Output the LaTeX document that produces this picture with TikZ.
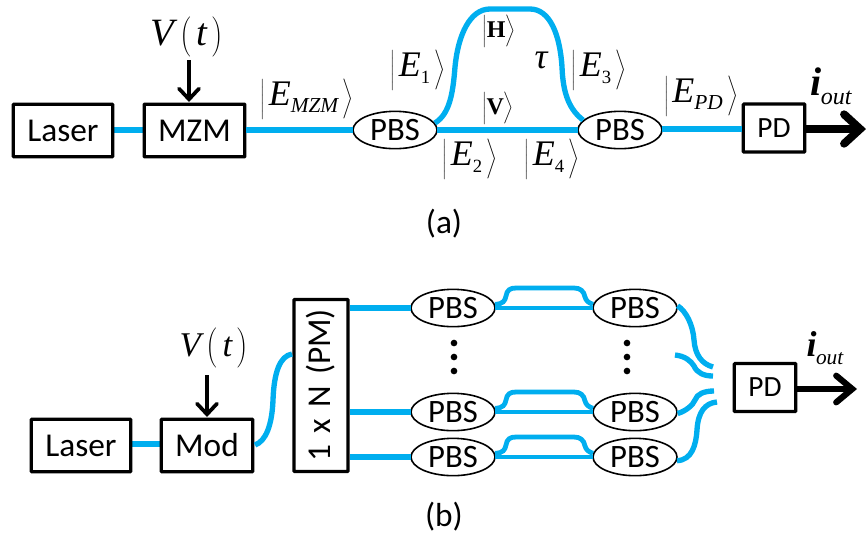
\documentclass[tikz,border=0pt]{standalone}
\usepackage{fontspec}
\setmainfont{Carlito}
\newfontfamily\serif{Liberation Serif}
\usetikzlibrary{shapes.geometric,arrows.meta}
\definecolor{fibre}{RGB}{0,174,239}
\newcommand\Ket[2]{$\left|\rule[-10pt]{0pt}{30pt}\,\hbox{\fontsize{27}{27}\serif\itshape E}_{\raisebox{-3pt}{\fontsize{#2}{#2}\serif #1}}\,\right\rangle$}
\newcommand\KetB[1]{$\left|\rule[-7pt]{0pt}{24pt}\hbox{\fontsize{18}{18}\serif\bfseries #1}\right\rangle$}
\newcommand\Vt[1]{\fontsize{#1}{#1}\serif\itshape V\,$\left(\rule[-8pt]{0pt}{24pt}\,\hbox{\fontsize{#1}{#1}\serif\itshape t}\,\right)$}
\tikzset{
  blk/.style={draw=black,line width=2.4pt,rounded corners=.5pt,fill=white,inner sep=0pt,font=\fontsize{25}{25}\selectfont},
  pbs/.style={draw=black,ellipse,line width=1.2pt,fill=white,inner sep=0pt,minimum width=63pt,minimum height=28pt,font=\fontsize{24.5}{24.5}\selectfont},
  fib/.style={draw=fibre,line width=4pt},
  fibs/.style={draw=fibre,line width=3.6pt},
  bigarr/.style={line width=6pt,-{Straight Barb[length=12pt,width=22pt,line cap=round,line width=6pt]}},
  medarr/.style={line width=4.6pt,-{Straight Barb[length=12pt,width=20pt,line cap=round,line width=4.6pt]}},
  sigarr/.style={line width=2.8pt,-{Straight Barb[length=8pt,width=15pt,line cap=round,line width=2.8pt]}},
  lab/.style={inner sep=0pt,font=\fontsize{19}{19}\selectfont},
  dotn/.style={circle,fill=black,inner sep=0pt,minimum size=5pt},
}
\begin{document}
\begin{tikzpicture}[x=.75pt,y=-.75pt]
\useasboundingbox (0,0) rectangle (866,533);
% ===== (a)
\draw[fib] (100,130) -- (160,130);
\node[blk,minimum width=74.5pt,minimum height=39.5pt] (la) at (63,130.5) {Laser};
\node[blk,minimum width=75.5pt,minimum height=39.5pt] (ma) at (194.5,130.5) {MZM};
\node[pbs] (p1) at (395,130) {PBS};
\node[pbs] (p2) at (620,130) {PBS};
\node[blk,minimum width=46pt,minimum height=36pt,font=\fontsize{22}{22}\selectfont] (pda) at (774,128) {PD};
\coordinate (oa) at (866,129);
\coordinate (va) at (189,60);
\coordinate (maR) at (246,130);
\coordinate (p1L) at (353,130);
\coordinate (p1R) at (437,130);
\coordinate (p2L) at (578,130);
\coordinate (p2R) at (662,129);
\coordinate (pdL) at (742,129);
\coordinate (pdR) at (806,129);
\coordinate (maT) at (189,102);
\draw[fib] (maR) -- (p1L);
\draw[fib] (p1R) -- (p2L);
\draw[fib] (p2R) -- (pdL);
\draw[fib] (p1.10) .. controls (450,114) and (453,92) .. (455,67)
  .. controls (458,35) and (470,9) .. (490,9) -- (530,9)
  .. controls (550,9) and (560,35) .. (562,67)
  .. controls (563,95) and (570,110) .. (p2.165);
\draw[bigarr] (pdR) -- (oa);
\draw[sigarr] (va) -- (maT);
\node[lab] (t1) at (187,37) {\Vt{29}};
\node[lab] (t2) at (307,99) {\Ket{\itshape MZM}{16}};
\node[lab] (t3) at (418,70) {\Ket{1}{14}};
\node[lab] (t4) at (470,159) {\Ket{2}{14}};
\node[lab] (t5) at (552,159) {\Ket{4}{14}};
\node[lab] (t6) at (599,70) {\Ket{3}{14}};
\node[lab] (t7) at (701,96) {\Ket{\itshape PD}{16}};
\node[lab] (t8) at (499,31) {\KetB{H}};
\node[lab] (t9) at (498,108) {\KetB{V}};
\node[lab] (t10) at (541,60) {\fontsize{27}{27}\serif\itshape τ};
\node[lab] (t11) at (831,86) {\fontsize{30}{30}\serif\bfseries\itshape i\hspace{-.5pt}\raisebox{-7pt}{\fontsize{18}{18}\selectfont\mdseries out}};
\node[lab,font=\fontsize{25}{25}\selectfont] (c1) at (444,224) {(a)};
% ===== (b)
\draw[fib] (120,444) -- (175,444);
\node[blk,minimum width=74.5pt,minimum height=39.5pt] (lb) at (81,445.5) {Laser};
\node[blk,minimum width=68.5pt,minimum height=39.5pt] (mb) at (207,445.5) {Mod};
\node[blk,minimum width=40.5pt,minimum height=129pt] (sp) at (321,385.5) {};
\node[lab,rotate=90,font=\fontsize{25}{25}\selectfont] (spt) at (321,385) {1\,\,x\,\,N\,\,(PM)};
\foreach \n/\yy/\k in {a/308/0,b/412/1,c/457/2}{
  \node[pbs] (l\n) at (453,\yy) {PBS};
  \node[pbs] (r\n) at (635,\yy) {PBS};
  \coordinate (sl\n) at (350,\yy);
  \coordinate (e\n) at (411,\yy);
  \coordinate (a\n) at (495,\yy);
  \coordinate (b\n) at (593,\yy);
  \draw[fib] (sl\n) -- (e\n);
  \draw[fibs] (a\n) -- (b\n);
  \draw[fibs] (l\n.5) .. controls (503,\yy-4) and (505,\yy-7) .. (506,\yy-12)
     .. controls (507,\yy-18) and (510,\yy-20) .. (516,\yy-20) -- (574,\yy-20)
     .. controls (580,\yy-20) and (584,\yy-17) .. (585,\yy-11)
     .. controls (586,\yy-7) and (589,\yy-5) .. (r\n.175);
}
\node[dotn] (d1) at (454,343) {};
\node[dotn] (d2) at (454,357) {};
\node[dotn] (d3) at (454,371) {};
\node[dotn] (d4) at (627,343) {};
\node[dotn] (d5) at (627,357) {};
\node[dotn] (d6) at (627,371) {};
\node[blk,minimum width=46pt,minimum height=36pt,font=\fontsize{22}{22}\selectfont] (pdb) at (765,387.5) {PD};
\coordinate (ob) at (857,389);
\coordinate (pdbR) at (797,389);
\coordinate (vb) at (207,375);
\coordinate (mbT) at (207,417);
\coordinate (ms) at (255,445);
\coordinate (si) at (292,354);
\coordinate (f1) at (713,367);
\coordinate (f2s) at (675,355);
\coordinate (f2) at (713,376);
\coordinate (f3) at (714,391);
\coordinate (f4) at (717,402);
\draw[fib] (ms) .. controls (266,441) and (272,425) .. (273,400)
  .. controls (274,372) and (280,356) .. (si);
\draw[fib] (ra.3) .. controls (686,311) and (693,325) .. (694,340)
  .. controls (695,355) and (702,364) .. (f1);
\draw[fib] (f2s) .. controls (685,356) and (691,361) .. (694,366)
  .. controls (697,373) and (704,376) .. (f2);
\draw[fib] (rb.-2) .. controls (686,411) and (693,405) .. (695,400)
  .. controls (697,394) and (704,391) .. (f3);
\draw[fib] (rc.-5) .. controls (692,460) and (696,445) .. (697,430)
  .. controls (698,412) and (705,403) .. (f4);
\draw[medarr] (pdbR) -- (ob);
\draw[sigarr] (vb) -- (mbT);
\node[lab] (t12) at (214,348) {\Vt{26}};
\node[lab] (t13) at (825,348) {\fontsize{27}{27}\serif\bfseries\itshape i\hspace{-.5pt}\raisebox{-6pt}{\fontsize{16}{16}\selectfont\mdseries out}};
\node[lab,font=\fontsize{25}{25}\selectfont] (c2) at (444,517) {(b)};
\end{tikzpicture}
\end{document}
